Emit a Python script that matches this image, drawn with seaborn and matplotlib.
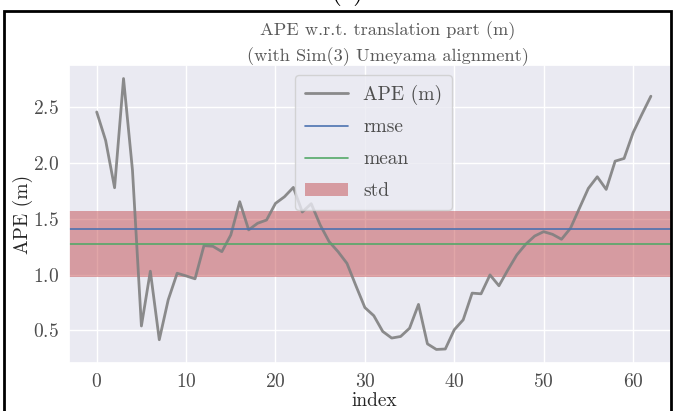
import numpy as np
import pandas as pd
import matplotlib
matplotlib.use("Agg")
import matplotlib.pyplot as plt
from matplotlib.patches import Rectangle
import seaborn as sns

# ---- data ----
index = list(range(63))
ape = [2.455, 2.20, 1.777, 2.754, 1.935, 0.540, 1.030, 0.417, 0.774, 1.012,
       0.988, 0.962, 1.259, 1.253, 1.205, 1.354, 1.652, 1.400, 1.459, 1.488,
       1.637, 1.696, 1.780, 1.560, 1.634, 1.444, 1.295, 1.205, 1.100, 0.900,
       0.705, 0.632, 0.491, 0.432, 0.446, 0.520, 0.733, 0.380, 0.330, 0.334,
       0.506, 0.595, 0.834, 0.828, 0.997, 0.900, 1.042, 1.176, 1.272, 1.345,
       1.384, 1.360, 1.316, 1.414, 1.593, 1.771, 1.875, 1.762, 2.015, 2.039,
       2.268, 2.435, 2.596]
rmse = 1.406
mean = 1.274
std = 0.594

title = "APE w.r.t. translation part (m)\n(with Sim(3) Umeyama alignment)"
xlabel = "index"
ylabel = "APE (m)"
legend_labels = ["APE (m)", "rmse", "mean", "std"]

df = pd.DataFrame({"index": index, "APE": ape})

sns.set_theme(style="darkgrid")
plt.rcParams["font.family"] = ["cmr10", "DejaVu Serif"]
plt.rcParams["mathtext.fontset"] = "cm"
plt.rcParams["axes.formatter.use_mathtext"] = True

W, H = 675, 411
fig = plt.figure(figsize=(W / 100, H / 100), dpi=100)
fig.patch.set_facecolor("white")

L, R, T, B = 69, 678.6, 65, 363
ax = fig.add_axes([L / W, 1 - B / H, (R - L) / W, (B - T) / H])

sns.lineplot(data=df, x="index", y="APE", ax=ax, color="gray", linewidth=2,
             alpha=0.9, label=legend_labels[0])
ax.axhline(rmse, color="#4c72b0", linewidth=1.2, label=legend_labels[1])
ax.axhline(mean, color="#55a868", linewidth=1.2, label=legend_labels[2])
ax.axhspan(mean - std / 2, mean + std / 2, color="#c44e52", alpha=0.5,
           linewidth=0, label=legend_labels[3])

ax.set_xlabel(xlabel, fontsize=14, labelpad=1)
ax.set_ylabel(ylabel, fontsize=14, labelpad=0)
ax.set_title(title, fontsize=13.2, color="0.35", pad=3, linespacing=1.5,
             x=0.523)
ax.tick_params(labelsize=14, colors="0.3", pad=1)
ax.set_xticks([0, 10, 20, 30, 40, 50, 60])
ax.set_yticks([0.5, 1.0, 1.5, 2.0, 2.5])

leg = ax.legend(loc="upper center", fontsize=14, frameon=True,
                handlelength=2.2, labelspacing=0.72, borderpad=0.5)
for t in leg.get_texts():
    t.set_color("0.3")

# outer frame from the screenshot
fig.patches.append(Rectangle((672 / W, 0), 3 / W, 1, transform=fig.transFigure,
                             facecolor="white", edgecolor="none", zorder=9))
fig.patches.append(Rectangle((3.5 / W, -0.01), (671 - 3.5) / W, 1 - 11 / H + 0.01,
                             transform=fig.transFigure, fill=False,
                             edgecolor="black", linewidth=2, zorder=10))
fig.text(347 / W, 1 + 1 / H, "(c)", fontsize=20, ha="center", va="baseline",
         color="black")

fig.savefig("out.png", dpi=100)
